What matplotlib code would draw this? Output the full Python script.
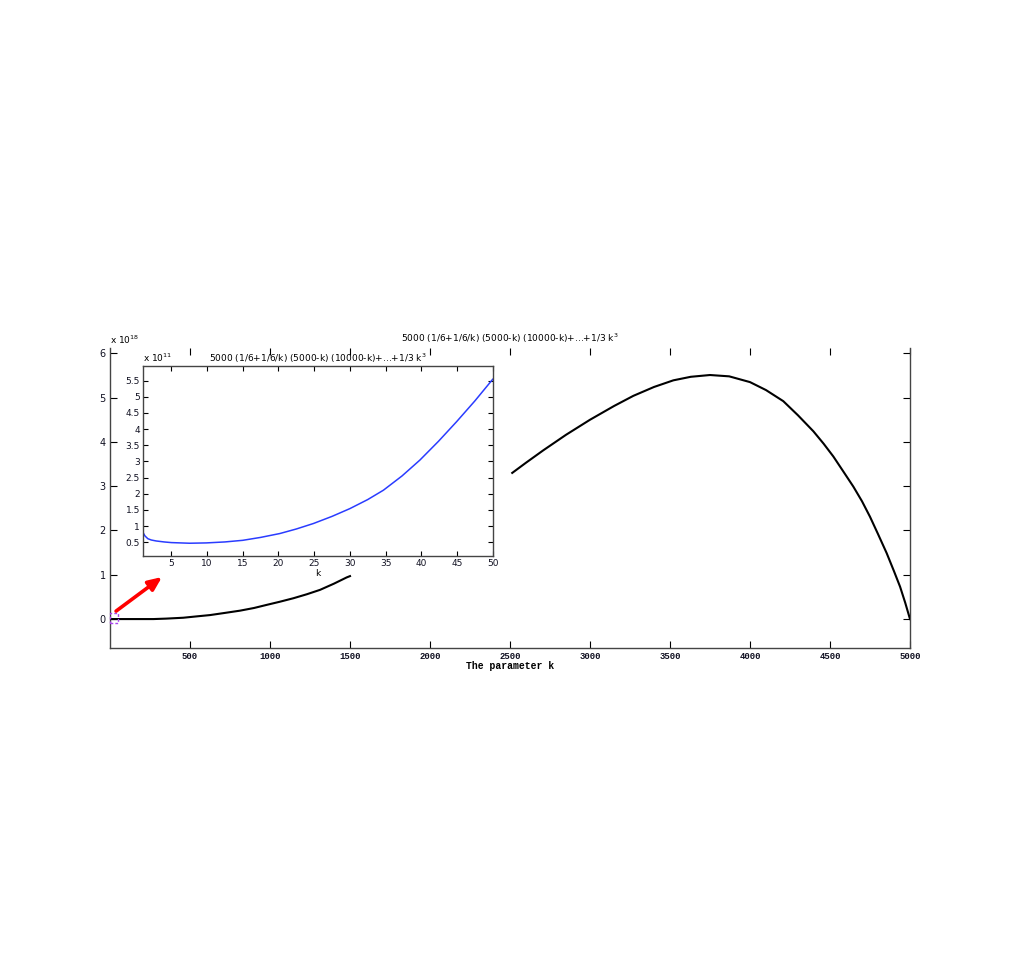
import numpy as np
import matplotlib
matplotlib.use("Agg")
import matplotlib.pyplot as plt

# ---- data ----
k_main = [1, 21, 271, 350, 458, 540, 625, 720, 813, 900, 979, 1060, 1146, 1230,
          1313, 1400, 1479, 1500, np.nan,
          2514, 2600, 2708, 2850, 3000, 3150, 3271, 3400, 3521, 3630, 3750,
          3870, 4000, 4100, 4208, 4300, 4396, 4460, 4521, 4580, 4646, 4700,
          4750, 4800, 4854, 4900, 4938, 4970, 5000]
v_main = [0.0, 0.0, 0.0, 0.01, 0.03, 0.06, 0.09, 0.14, 0.19, 0.25, 0.32, 0.39,
          0.47, 0.56, 0.66, 0.80, 0.94, 0.97, np.nan,
          3.30, 3.53, 3.81, 4.16, 4.50, 4.81, 5.04, 5.24, 5.39, 5.47, 5.51,
          5.48, 5.35, 5.17, 4.92, 4.60, 4.24, 3.96, 3.67, 3.35, 2.99, 2.66,
          2.31, 1.92, 1.49, 1.08, 0.73, 0.37, 0.0]

k_inset = [1, 1.3, 1.72, 2.2, 2.89, 4, 5, 7.56, 9.9, 12.5, 15, 17.5, 20.2, 22.5,
           24.9, 27.5, 30, 32.5, 34.7, 37.3, 39.8, 42.4, 44.95, 47.5, 50]
v_inset = [0.82, 0.70, 0.61, 0.57, 0.54, 0.51, 0.49, 0.47, 0.48, 0.51, 0.56,
           0.65, 0.77, 0.91, 1.08, 1.30, 1.54, 1.82, 2.11, 2.55, 3.04, 3.62,
           4.23, 4.87, 5.54]

main_xticks = [500, 1000, 1500, 2000, 2500, 3000, 3500, 4000, 4500, 5000]
main_yticks = [0, 1, 2, 3, 4, 5, 6]
inset_xticks = [5, 10, 15, 20, 25, 30, 35, 40, 45, 50]
inset_yticks = [0.5, 1, 1.5, 2, 2.5, 3, 3.5, 4, 4.5, 5, 5.5]

title_txt = r"5000 (1/6+1/6/k) (5000-k) (10000-k)+...+1/3 k$^{3}$"

# ---- figure ----
fig = plt.figure(figsize=(10.24, 9.58), dpi=100)
W, H = 1024, 958

def frac(l, t, r, b):
    return [l / W, 1 - b / H, (r - l) / W, (b - t) / H]

ax = fig.add_axes(frac(110, 348, 910, 648.3))
ax.plot(k_main, v_main, color="black", lw=1.5, zorder=3)
ax.set_xlim(0, 5000)
ax.set_ylim(-0.66, 6.12)
ax.set_xticks(main_xticks)
ax.set_xticklabels([str(t) for t in main_xticks], family="Liberation Mono",
                   fontweight="bold", fontsize=6.5)
ax.set_yticks(main_yticks)
ax.set_yticklabels([str(t) for t in main_yticks], fontsize=7)
ax.tick_params(direction="in", length=5, width=0.8, top=True, right=True,
               pad=3, colors="black", labelcolor="#111122")
for s in ["left", "bottom", "right"]:
    ax.spines[s].set_color("#444444")
    ax.spines[s].set_linewidth(1.0)
ax.spines["top"].set_visible(False)
ax.set_xlabel("The parameter k", family="Liberation Mono", fontweight="bold",
              fontsize=7, labelpad=0)
ax.set_title(title_txt, fontsize=6.5, pad=4)
ax.text(0, 1.005, r"x 10$^{18}$", transform=ax.transAxes, fontsize=6.5,
        ha="left", va="bottom")

# dashed zoom rectangle
ax.add_patch(plt.Rectangle((1, -0.1), 49, 0.24, fill=False, ec="#aa44ee",
                           ls=(0, (2, 1.5)), lw=1.0, zorder=4, clip_on=False))
# red arrow
ax.annotate("", xy=(325, 0.95), xytext=(38, 0.18),
            arrowprops=dict(arrowstyle="-|>,head_length=0.8,head_width=0.35",
                            color="red", lw=2.6, shrinkA=0, shrinkB=0),
            zorder=5)

# ---- inset ----
axi = fig.add_axes(frac(142.7, 365.7, 492.7, 556.3))
axi.set_facecolor("white")
axi.plot(k_inset, v_inset, color="#2a3cff", lw=1.1)
axi.set_xlim(1, 50)
axi.set_ylim(0.066, 5.96)
axi.set_xticks(inset_xticks)
axi.set_xticklabels([str(t) for t in inset_xticks], fontsize=6.5)
axi.set_yticks(inset_yticks)
axi.set_yticklabels([("%g" % t) for t in inset_yticks], fontsize=6.5)
axi.tick_params(direction="in", length=3.5, width=0.8, top=True, right=True,
                pad=2, labelcolor="#111122")
for s in axi.spines.values():
    s.set_color("#444444")
    s.set_linewidth(1.0)
axi.set_xlabel("k", fontsize=6.5, labelpad=1)
axi.set_title(title_txt, fontsize=6.5, pad=3)
axi.text(0, 1.01, r"x 10$^{11}$", transform=axi.transAxes, fontsize=6.5,
         ha="left", va="bottom")

fig.savefig("out.png", dpi=100)
